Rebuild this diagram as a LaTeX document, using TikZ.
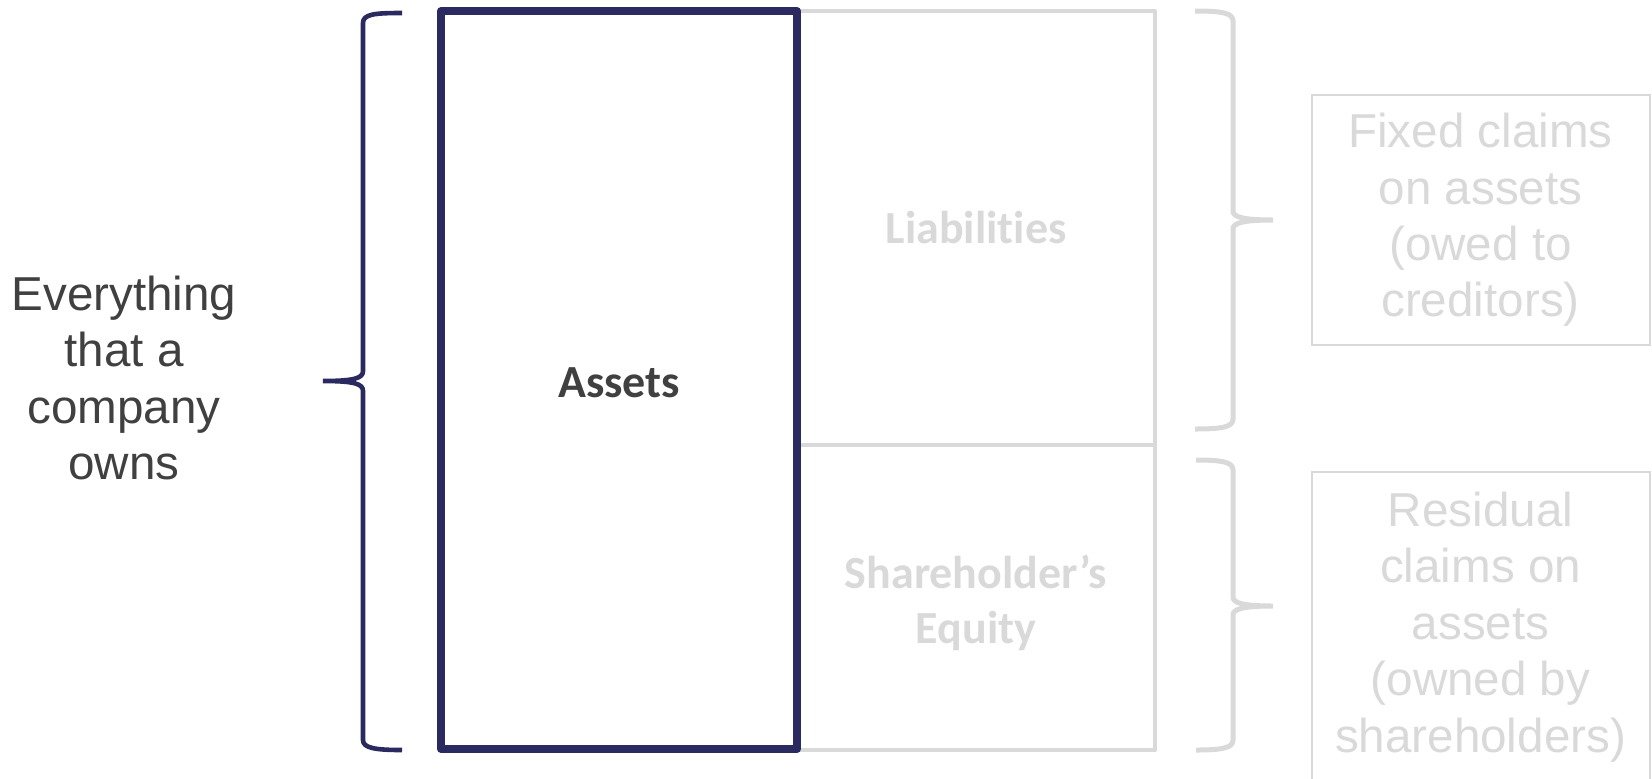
\documentclass[tikz,border=0pt]{standalone}
\usepackage{fontspec}
\setmainfont{Liberation Sans}
\newfontfamily\headfont[Ligatures={NoCommon}]{Carlito}
\definecolor{navy}{HTML}{2A2A60}
\definecolor{faint}{HTML}{D9D9D9}
\definecolor{ink}{HTML}{404040}

\begin{document}
\begin{tikzpicture}[x=0.5pt,y=-0.5pt,
  sidetext/.style={align=center, inner sep=0pt,
    font=\fontsize{23.8}{28.2}\selectfont},
  headtext/.style={align=center, inner sep=0pt,
    font=\headfont\bfseries\fontsize{23}{27.5}\selectfont},
  graybox/.style={draw=faint, line width=2pt, rectangle, line join=round},
  assetbox/.style={draw=navy, line width=4pt, rectangle, line join=round},
  claimbox/.style={draw=faint, line width=1pt, rectangle},
  navybrace/.style={draw=navy, line width=2.3pt},
  graybrace/.style={draw=faint, line width=2.5pt}]

\useasboundingbox (0,0) rectangle (1652,778);

% balance sheet columns
\node[graybox, minimum width=179pt, minimum height=217pt] (liab) at (976,228) {};
\node[graybox, minimum width=179pt, minimum height=152.5pt] (equity) at (976,597.5) {};
\node[assetbox, minimum width=178pt, minimum height=369pt] (assets) at (619,380) {};

\node[headtext, text=faint] (liabtext) at (liab.center) {Liabili\kern0pt ties};
\node[headtext, text=faint] (equitytext) at ([yshift=-2.5pt]equity.center)
      {Shareholder’s\\Equity};
\node[headtext, text=ink] (assettext) at ([yshift=-1.5pt]assets.center) {Assets};

% explanatory boxes on the right
\node[claimbox, minimum width=169pt, minimum height=125pt,
      sidetext, text=faint] (fixed) at (1480.5,220)
      {Fixed claims\\on assets\\(owed to\\creditors)};
\begin{scope}
  \clip (0,0) rectangle (1652,778);
  \node[claimbox, minimum width=169pt, minimum height=155pt,
        sidetext, text=faint] (resid) at (1480.5,627)
        {Residual\\claims on\\assets\\(owned by\\shareholders)};
\end{scope}

% label on the left
\node[sidetext, text=ink] (owns) at (124,378)
      {Everything\\that a\\company\\owns};

% brace around the assets column
\draw[navybrace] (402,13) .. controls (375,13) and (363,14) .. (363,23)
  -- (363,371) .. controls (363,378) and (355,381) .. (323,381)
  .. controls (355,381) and (363,384) .. (363,391)
  -- (363,740) .. controls (363,748) and (375,750) .. (402,750);

% braces on the right-hand side
\draw[graybrace] (1195,11) .. controls (1222,11) and (1233,13) .. (1233,21)
  -- (1233,211) .. controls (1233,217) and (1243,220) .. (1273,220)
  .. controls (1243,220) and (1233,223) .. (1233,229)
  -- (1233,419) .. controls (1233,427) and (1222,429) .. (1195,429);
\draw[graybrace] (1196,460) .. controls (1222,460) and (1233,462) .. (1233,470)
  -- (1233,597) .. controls (1233,603) and (1243,606) .. (1273,606)
  .. controls (1243,606) and (1233,609) .. (1233,615)
  -- (1233,740) .. controls (1233,748) and (1222,750) .. (1196,750);

\end{tikzpicture}
\end{document}
